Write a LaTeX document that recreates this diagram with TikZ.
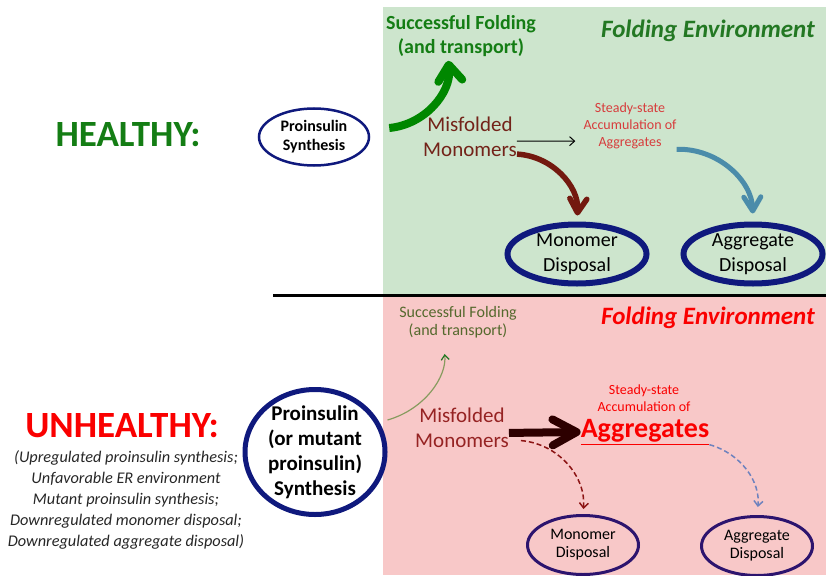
\documentclass[tikz,border=0pt]{standalone}
\usepackage{fontspec}
\setmainfont{Carlito}
\usepackage{xcolor}
\usetikzlibrary{shapes.geometric, arrows.meta, positioning}

\definecolor{okfill}{RGB}{205,229,205}
\definecolor{badfill}{RGB}{248,200,200}
\definecolor{okgreen}{RGB}{20,125,20}
\definecolor{envgreen}{RGB}{35,120,35}
\definecolor{arrowgreen}{RGB}{0,135,0}
\definecolor{misred}{RGB}{115,35,25}
\definecolor{misredtwo}{RGB}{150,35,35}
\definecolor{brownarrow}{RGB}{115,25,15}
\definecolor{steadyred}{RGB}{215,60,60}
\definecolor{bluearrow}{RGB}{75,140,170}
\definecolor{navy}{RGB}{15,25,125}
\definecolor{plum}{RGB}{45,20,110}
\definecolor{badred}{RGB}{250,0,0}
\definecolor{olivetext}{RGB}{85,105,45}
\definecolor{olivearrow}{RGB}{135,155,95}
\definecolor{darkbrown}{RGB}{45,0,0}
\definecolor{dashred}{RGB}{140,20,20}
\definecolor{dashblue}{RGB}{110,130,190}

\begin{document}
\begin{tikzpicture}[x=1pt, y=1pt,
    every node/.style={align=center, inner sep=0pt},
    synthring/.style={ellipse, draw=navy, text=black},
    disposal/.style={ellipse, draw=navy, line width=6pt, inner sep=-3pt,
        minimum width=139pt, minimum height=59pt,
        font=\fontsize{20}{25}\selectfont},
    smalldisposal/.style={ellipse, draw=plum, line width=3pt,
        minimum width=111pt, minimum height=59pt,
        font=\fontsize{16}{18}\selectfont}]
    % page and panels
    \useasboundingbox (0,0) rectangle (826,-575);
    \fill[okfill] (383,-7) rectangle (826,-294);
    \fill[badfill] (383,-297) rectangle (826,-575);
    \draw[line width=3pt] (273,-295) -- (826,-295);

    % healthy cell
    \node[font=\fontsize{37}{44}\selectfont\bfseries, text=okgreen] (healthy) at (128,-135) {HEALTHY:};
    \node[synthring, line width=2.5pt, minimum width=110pt, minimum height=57pt,
          font=\fontsize{16}{19}\selectfont\bfseries] (synth) at (314,-137) {Proinsulin\\Synthesis};
    \node[font=\fontsize{20}{24}\selectfont\bfseries, text=okgreen] (fold) at (461,-36) {Successful Folding\\(and transport)};
    \node[font=\fontsize{25}{30}\selectfont\bfseries\itshape, text=envgreen] (envok) at (708,-31) {Folding Environment};
    \node[font=\fontsize{21}{25}\selectfont, text=misred] (misf) at (470,-137) {Misfolded\\Monomers};
    \node[font=\fontsize{14}{17}\selectfont, text=steadyred] (steady) at (630,-126) {Steady-state\\Accumulation of\\Aggregates};
    \node[disposal] (mono) at (577,-254) {Monomer\\Disposal};
    \node[disposal] (aggd) at (753,-254) {Aggregate\\Disposal};

    \draw[line width=8pt, draw=arrowgreen]
        ([shift={(19,9)}]synth.east) edge[bend right=45, shorten >=4pt,
            -{Straight Barb[length=16pt, width=24pt, round]}] ([xshift=-13pt]fold.south);
    \draw[line width=1pt]
        (misf.-5) edge[shorten >=8pt, -{Straight Barb[length=5pt, width=9pt]}] (steady.198);
    \draw[line width=5.5pt, draw=brownarrow]
        (misf.-20) edge[bend left=45, shorten >=6pt,
            -{Straight Barb[length=14pt, width=17pt, round]}] (mono.north);
    \draw[line width=5pt, draw=bluearrow]
        (steady.south east) edge[bend left=45, shorten >=8pt,
            -{Straight Barb[length=14pt, width=17pt, round]}] (aggd.north);

    % unhealthy cell
    \node[font=\fontsize{37}{44}\selectfont\bfseries, text=badred] (unhealthy) at (122,-425.5) {UNHEALTHY:};
    \node[font=\fontsize{16.3}{21}\selectfont\itshape, text=black!85] (causes) at (126,-500)
        {(Upregulated proinsulin synthesis;\\Unfavorable ER environment\\Mutant proinsulin synthesis;\\Downregulated monomer disposal;\\Downregulated aggregate disposal)};
    \node[synthring, line width=5pt, inner sep=-5pt, minimum width=140pt, minimum height=125pt,
          font=\fontsize{21}{25}\selectfont\bfseries] (mutsynth) at (315,-452) {Proinsulin\\(or mutant\\proinsulin)\\Synthesis};
    \node[font=\fontsize{16}{18}\selectfont, text=olivetext] (fold2) at (458,-322) {Successful Folding\\(and transport)};
    \node[font=\fontsize{25}{30}\selectfont\bfseries\itshape, text=badred] (envbad) at (708,-318) {Folding Environment};
    \node[font=\fontsize{21}{25}\selectfont, text=misredtwo] (misf2) at (462,-428) {Misfolded\\Monomers};
    \node[font=\fontsize{14}{17}\selectfont, text=badred] (steady2) at (644,-398) {Steady-state\\Accumulation of};
    \node[font=\fontsize{28}{34}\selectfont\bfseries, text=badred] (aggr) at (645,-432) {\underline{Aggregates}};
    \node[smalldisposal] (mono2) at (583,-545) {Monomer\\Disposal};
    \node[smalldisposal] (aggd2) at (757,-546) {Aggregate\\Disposal};

    \draw[line width=1.2pt, draw=olivearrow]
        ([yshift=32pt]mutsynth.east) edge[bend right=40, shorten >=16pt,
            -{Straight Barb[length=5pt, width=8pt, color=envgreen]}] ([xshift=-15pt]fold2.south);
    \draw[line width=8pt, draw=darkbrown]
        (misf2.-6) edge[-{Straight Barb[length=24pt, width=26pt, round]}] (aggr.west);
    \draw[line width=1.5pt, dash pattern=on 5pt off 3pt, draw=dashred]
        ([xshift=12pt]misf2.-15) edge[bend left=45, shorten >=5pt,
            -{Straight Barb[length=5pt, width=9pt]}] (mono2.north);
    \draw[line width=1.5pt, dash pattern=on 5pt off 3pt, draw=dashblue]
        (aggr.south east) edge[bend left=40, shorten >=8pt,
            -{Straight Barb[length=5pt, width=9pt]}] (aggd2.north);
\end{tikzpicture}
\end{document}
